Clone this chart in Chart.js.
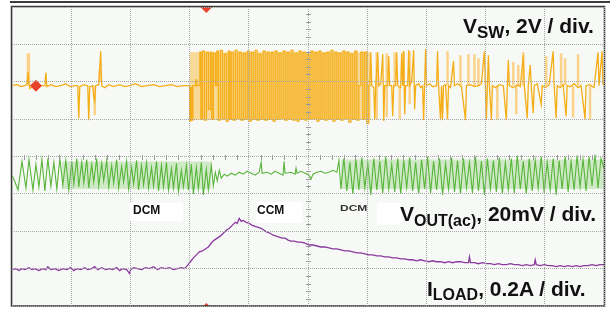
<!DOCTYPE html>
<html><head><meta charset="utf-8">
<script src="https://cdn.jsdelivr.net/npm/chart.js@4.4.1/dist/chart.umd.min.js"></script>
<style>
html,body{margin:0;padding:0;background:#fff;}
#wrap{position:relative;width:610px;height:312px;overflow:hidden;}
canvas{position:absolute;left:0;top:0;}
.topbar{position:absolute;left:10px;top:1px;width:600px;height:2px;background:#3c3c3c;}
.lbl{position:absolute;white-space:nowrap;font-family:"Liberation Sans",Arial,sans-serif;font-weight:bold;color:#111;}
.big{font-size:21px;line-height:21px;}
.sub{position:relative;}
.small{font-size:12px;line-height:12px;}
.box{position:absolute;background:#fff;}
</style></head>
<body><div id="wrap">
<canvas id="c" width="610" height="312"></canvas>
<div class="topbar"></div>
<div class="box" style="left:130px;top:203px;width:53px;height:18px"></div>
<div class="box" style="left:256px;top:202px;width:46px;height:21px"></div>
<div class="box" style="left:377px;top:203px;width:24px;height:22px"></div>
<div class="lbl big" style="left:463px;top:15px">V<span class="sub" style="font-size:17px;top:5px">SW</span>, 2V / div.</div>
<div class="lbl big" style="left:400px;top:203px">V<span class="sub" style="font-size:16px;top:5px">OUT(ac)</span>, 20mV / div.</div>
<div class="lbl big" style="left:427px;top:278px">I<span class="sub" style="font-size:16px;top:4px">LOAD</span>, 0.2A / div.</div>
<div class="lbl small" style="left:133px;top:204px">DCM</div>
<div class="lbl small" style="left:257px;top:204px">CCM</div>
<div class="lbl small" style="left:340px;top:201px;color:#333;transform:scaleY(0.8);transform-origin:0 100%;">DCM</div>
</div>
<script>
// Time axis: screen samples 0..594 (10 divisions); level axis: 0..304 (8 divisions)
const xGridTicks = [0, 59.4, 118.8, 178.2, 237.6, 297, 356.4, 415.8, 475.2, 534.6, 594];
const yGridTicks = [0, 38, 76, 114, 152, 190, 228, 266, 304];

// V_SW before the burst (DCM) [time, level]
const vswBefore = [
[0,224],[5,225],[9,223],[13,224],[15,226],[16,238],[17,226],[18,221],[20,223],[24,225],[28,224],[33,224],[34,237],[35,223],[39,225],[44,223],[49,224],[54,226],[58,223],[63,224],[66,224],[67,191],[68,223],[72,225],[76,224],[77,189],[78,223],[81,224],[82,212],[83,208],[84,224],[87,225],[89,259],[90,224],[93,222],[97,225],[102,223],[108,225],[113,223],[118,224],[124,226],[130,223],[136,224],[142,225],[148,223],[154,224],[160,225],[166,223],[172,224],[178,224]
];
// V_SW dense switching burst (CCM) [time, level]
const vswBurst = [
[178,224],[178.5,188],[180,222],[181,189],[182,224],[184,224],[185,230],[186,224],[188,224],[189,258],[190,190],[192,259],[194,189],[196,258],[198,200],[200,258],[201,190],[203,257],[205,224],[206,259],[208,189],[210,260],[212,190],[214,256],[216,188],[218,259],[219,190],[221,258],[223,189],[225,260],[227,191],[229,258],[231,189],[233,257],[235,190],[237,259],[239,188],[241,258],[243,190],[245,260],[247,189],[249,256],[251,190],[253,259],[255,189],[257,258],[259,190],[261,258],[263,188],[265,259],[267,190],[269,257],[271,191],[273,259],[275,189],[277,258],[279,190],[281,260],[283,189],[285,257],[287,188],[289,259],[291,190],[293,258],[295,189],[297,256],[299,190],[301,259],[303,191],[305,258],[307,188],[309,259],[311,190],[313,257],[315,189],[317,258],[319,190],[321,260],[323,188],[325,258],[327,190],[329,257],[331,189],[333,259],[335,191],[337,258],[339,187],[341,256],[343,190],[345,259],[347,189],[349,224],[351,258],[353,190],[355,258],[357,186],[359,224]
];
// V_SW after the burst (back to DCM) [time, level]
const vswAfter = [
[359,224],[360,258],[361,224],[363,222],[364,190],[365,224],[367,258],[368,224],[370,226],[372,256],[373,188],[374,224],[377,224],[378,254],[379,224],[381,224],[382,193],[383,224],[385,224],[386,258],[387,224],[390,222],[391,257],[392,224],[393,259],[394,195],[395,224],[397,224],[398,260],[399,224],[401,228],[403,260],[404,200],[405,224],
[408,226],[410,222],[412,224],[413,189],[414,224],[415,261],[416,224],[419,226],[422,223],[426,224],[427,259],[428,224],[430,189],[431,224],[432,190],[433,224],[435,225],[437,190],[438,224],[440,222],[443,249],[444,224],[447,226],[451,223],[455,189],[456,224],[460,225],[464,223],[468,224],[471,226],[474,259],[475,224],[476,190],[477,224],[478,255],[479,224],[481,189],[482,224],[485,222],[489,225],[493,224],[496,189],[497,224],[498,250],[499,224],[503,222],[507,225],[510,223],[513,255],[514,224],[517,191],[518,224],[520,245],[521,224],[523,196],[524,224],[527,226],[531,205],[532,224],[535,222],[539,225],[543,259],[544,224],[546,191],[547,224],[550,222],[553,225],[556,193],[557,224],[560,223],[564,226],[568,222],[571,224],[575,190],[576,224],[580,225],[584,222],[588,258],[589,224],[592,259],[593,226],[594,225]
];
// V_SW persistence (light) spikes
const vswGhostT  = [16, 17, 83, 88, 366, 376, 384, 389, 393, 399, 437, 450, 458, 464, 468, 487, 503, 506, 508, 513, 536, 551, 555, 563, 568, 580];
const vswGhostLo = [224,224,194,228,190,192,224,190,224,205,224,224,224,224,224,190,224,195,224,224,224,224,224,192,224,189];
const vswGhostHi = [257,257,224,240,258,257,258,224,259,259,259,255,256,256,252,224,248,224,245,258,254,257,252,224,256,224];
// V_SW dense switching persistence envelope
const vswBandT   = [178, 360];
const vswBandTop = [258, 258];
const vswBandBottom = 189;

// V_OUT(ac) [time, level]
const voutTrace = [
[0,133],[3,126],[6,118],[10,147],[14,120],[17,149],[21,118],[24,144],[27,121],[30,149],[33,117],[36,150],[39,122],[42,146],[45,119],[48,150],[51,123],[54,148],[57,118],[60,147],[62,124],[65,150],[67,121],[70,146],[72,125],[75,149],[77,120],[80,144],[82,126],[85,150],[87,122],[90,145],[92,127],[95,148],[97,121],[100,143],[102,125],[105,149],[107,120],[110,142],[112,126],[115,147],[117,119],[120,141],[122,124],[125,148],[127,118],[130,143],[132,123],[135,146],[137,120],[140,141],[142,122],[145,147],[147,117],[150,143],[152,121],[155,146],[157,118],[160,140],[162,120],[165,145],[167,116],[170,138],[172,121],[175,143],[177,118],[180,144],[182,114],[185,141],[187,119],[190,146],[192,113],[195,139],[197,118],[200,143],[202,122],[204,136],[206,127],[208,138],[210,130],[213,134],
[216,132],[220,135],[224,133],[228,136],[232,134],[236,137],[240,135],[244,133],[248,136],[250,146],[251,135],[256,136],[260,134],[264,137],[268,135],[272,133],[273,147],[274,135],[280,136],[284,134],[285,140],[286,135],[290,137],[294,135],[298,133],[300,129],[302,134],[306,136],[310,137],[314,135],[318,136],[322,138],[326,136],
[328,148],[330,119],[333,150],[336,117],[339,146],[342,114],[345,149],[348,118],[351,151],[354,120],[357,145],[360,113],[363,150],[366,118],[369,147],[372,115],[375,152],[378,119],[381,144],[384,116],[387,150],[390,114],[393,148],[396,120],[399,151],[402,117],[405,146],[408,114],[411,149],[414,119],[417,152],[420,115],[423,147],[426,118],[429,150],[432,113],[435,145],[438,119],[441,151],[444,116],[447,148],[450,114],[453,150],[456,120],[459,146],[462,115],[465,152],[468,117],[471,147],[474,113],[477,150],[480,119],[483,148],[486,116],[489,151],[492,114],[495,146],[498,118],[501,150],[504,115],[507,153],[510,119],[513,147],[516,114],[519,150],[522,117],[525,148],[528,120],[531,152],[534,115],[537,146],[540,118],[543,150],[546,113],[549,148],[552,119],[555,152],[558,116],[561,147],[564,118],[567,153],[570,121],[573,149],[576,117],[579,152],[582,122],[585,154],[588,120],[591,150],[594,140]
];
// V_OUT persistence envelopes (start, end, top); bottom level
const voutBandStart = [50, 330];
const voutBandEnd   = [200, 594];
const voutBandTop   = [147, 149];
const voutBandBottom = 119;

// I_LOAD [time, level]
const iloadTrace = [
[0,37],[4,38],[7,36],[10,38],[13,37],[17,39],[20,37],[23,38],[27,36],[31,38],[34,37],[36,40],[39,37],[43,38],[47,36],[51,38],[55,37],[59,39],[62,36],[65,38],[69,37],[73,39],[76,37],[80,38],[83,40],[86,37],[90,39],[94,37],[98,38],[101,37],[105,39],[108,36],[111,38],[115,37],[118,33],[119,37],[122,39],[126,38],[130,37],[134,39],[138,38],[142,40],[146,37],[150,39],[154,38],[158,39],[162,37],[166,38],[170,39],[173,38],[176,41],[179,45],[182,49],[185,52],[188,55],[191,56],[194,58],[197,60],[200,64],[203,67],[206,69],[209,71],[212,74],[215,77],[218,79],[221,82],[224,85],[226,84],[228,89],[230,86],[232,87],[235,85],[238,84],[241,82],[244,81],[247,80],[250,79],[253,77],[256,75],[259,74],[262,72],[265,71],[268,70],[271,69],[274,69],[277,67],[280,66],[283,66],[287,65],[290,65],[294,64],[298,62],[302,62],[306,61],[310,60],[314,60],[318,59],[322,58],[326,58],[330,57],[334,56],[338,56],[342,55],[346,54],[350,54],[354,53],[358,52],[362,52],[366,51],[370,51],[374,50],[378,50],[382,49],[386,49],[390,48],[394,48],[398,47],[402,47],[406,46],[410,47],[414,46],[418,45],[422,46],[426,45],[430,45],[434,44],[438,45],[442,44],[446,45],[450,45],[454,44],[458,44],[459,50],[460,44],[464,44],[468,43],[472,44],[476,43],[480,43],[484,42],[488,43],[492,42],[496,42],[500,43],[504,42],[508,42],[512,41],[516,42],[520,41],[524,42],[525,47],[526,42],[530,41],[534,42],[538,41],[542,41],[546,40],[550,41],[554,40],[558,41],[562,40],[566,41],[570,40],[574,41],[578,41],[582,42],[586,41],[590,42],[594,42]
];
// Trigger / position markers [time, level]
const markerPoints = [[24,224],[195,304],[195,-3]];

// ---- build library tables ----
const pts = arr => arr.map(p => ({x: p[0], y: p[1]}));
const ghostData = [];
vswGhostT.forEach((t, i) => { ghostData.push({x:t, y:vswGhostLo[i]}, {x:t, y:vswGhostHi[i]}, {x:t, y:null}); });
const vswBandData = vswBandT.map((t, i) => ({x:t, y:vswBandTop[i]}));
const voutBandData = [];
voutBandStart.forEach((s, i) => { voutBandData.push({x:s, y:voutBandTop[i]}, {x:voutBandEnd[i], y:voutBandTop[i]}, {x:voutBandEnd[i], y:null}); });

const xMinorTicks = [], yMinorTicks = [];
for (let i = 0; i < xGridTicks.length - 1; i++) for (let k = 1; k < 5; k++) xMinorTicks.push(xGridTicks[i] + (xGridTicks[i+1]-xGridTicks[i])*k/5);
for (let i = 0; i < yGridTicks.length - 1; i++) for (let k = 1; k < 5; k++) yMinorTicks.push(yGridTicks[i] + (yGridTicks[i+1]-yGridTicks[i])*k/5);

const scopePlugin = {
  id: 'scope',
  beforeDraw(chart) {
    const {ctx, chartArea: a} = chart;
    ctx.save(); ctx.fillStyle = '#f7f9f6';
    ctx.fillRect(a.left, a.top, a.right - a.left, a.bottom - a.top);
    ctx.restore();
  },
  afterDatasetsDraw(chart) {
    const {ctx, chartArea: a, scales: {x, y}} = chart;
    ctx.save();
    ctx.strokeStyle = '#999'; ctx.lineWidth = 1;
    const cx = Math.round(x.getPixelForValue(297)) + 0.5, cy = Math.round(y.getPixelForValue(152)) + 0.5;
    ctx.beginPath();
    xMinorTicks.forEach(v => { const px = Math.round(x.getPixelForValue(v)) + 0.5; ctx.moveTo(px, cy - 2.5); ctx.lineTo(px, cy + 2.5); });
    yMinorTicks.forEach(v => { const py = Math.round(y.getPixelForValue(v)) + 0.5; ctx.moveTo(cx - 2.5, py); ctx.lineTo(cx + 2.5, py); });
    ctx.stroke();
    ctx.strokeStyle = '#3a3a3a'; ctx.lineWidth = 1.5;
    ctx.strokeRect(a.left - 0.5, a.top - 0.5, a.right - a.left + 1, a.bottom - a.top + 0.5);
    ctx.restore();
  }
};

const gridOpts = {color: '#a6a6a6', lineWidth: 1, drawTicks: false, z: 1};
const orange = '#f5ae17';
new Chart(document.getElementById('c'), {
  type: 'line',
  data: {
    datasets: [
      {label: 'markers', type: 'scatter', data: pts(markerPoints), pointStyle: 'rectRot', pointRadius: 6, pointBackgroundColor: '#e8422b', pointBorderWidth: 0, showLine: false, order: 0},
      {label: 'V_SW', data: pts(vswBefore), borderColor: orange, borderWidth: 1.3, order: 3},
      {label: 'V_SW burst', data: pts(vswBurst), borderColor: orange, borderWidth: 1.3, stepped: 'middle', order: 3},
      {label: 'V_SW after', data: pts(vswAfter), borderColor: orange, borderWidth: 1.3, order: 3},
      {label: 'V_OUT(ac)', data: pts(voutTrace), borderColor: '#57b53a', borderWidth: 1.1, order: 3},
      {label: 'I_LOAD', data: pts(iloadTrace), borderColor: '#8a3a9e', borderWidth: 1.3, order: 3},
      {label: 'V_SW persist', data: ghostData, borderColor: '#fbd28a', borderWidth: 2.5, spanGaps: false, order: 6},
      {label: 'V_SW band', data: vswBandData, borderWidth: 0, backgroundColor: 'rgba(248,196,90,0.6)', fill: {value: vswBandBottom}, order: 8},
      {label: 'V_OUT band', data: voutBandData, borderWidth: 0, backgroundColor: 'rgba(120,200,90,0.3)', fill: {value: voutBandBottom}, spanGaps: false, order: 8}
    ]
  },
  options: {
    responsive: false, animation: false, devicePixelRatio: 1,
    layout: {padding: {left: 12, right: 4, top: 7, bottom: 1}},
    plugins: {legend: {display: false}, tooltip: {enabled: false}},
    elements: {point: {radius: 0}, line: {tension: 0}},
    scales: {
      x: {type: 'linear', min: 0, max: 594, offset: false,
          afterBuildTicks: s => { s.ticks = xGridTicks.map(v => ({value: v})); },
          ticks: {display: false}, grid: {...gridOpts, offset: false}, border: {display: false, dash: [1, 1]}},
      y: {type: 'linear', min: 0, max: 304,
          afterBuildTicks: s => { s.ticks = yGridTicks.map(v => ({value: v})); },
          ticks: {display: false}, grid: gridOpts, border: {display: false, dash: [1, 1]}}
    }
  },
  plugins: [scopePlugin]
});
</script>
</body></html>
